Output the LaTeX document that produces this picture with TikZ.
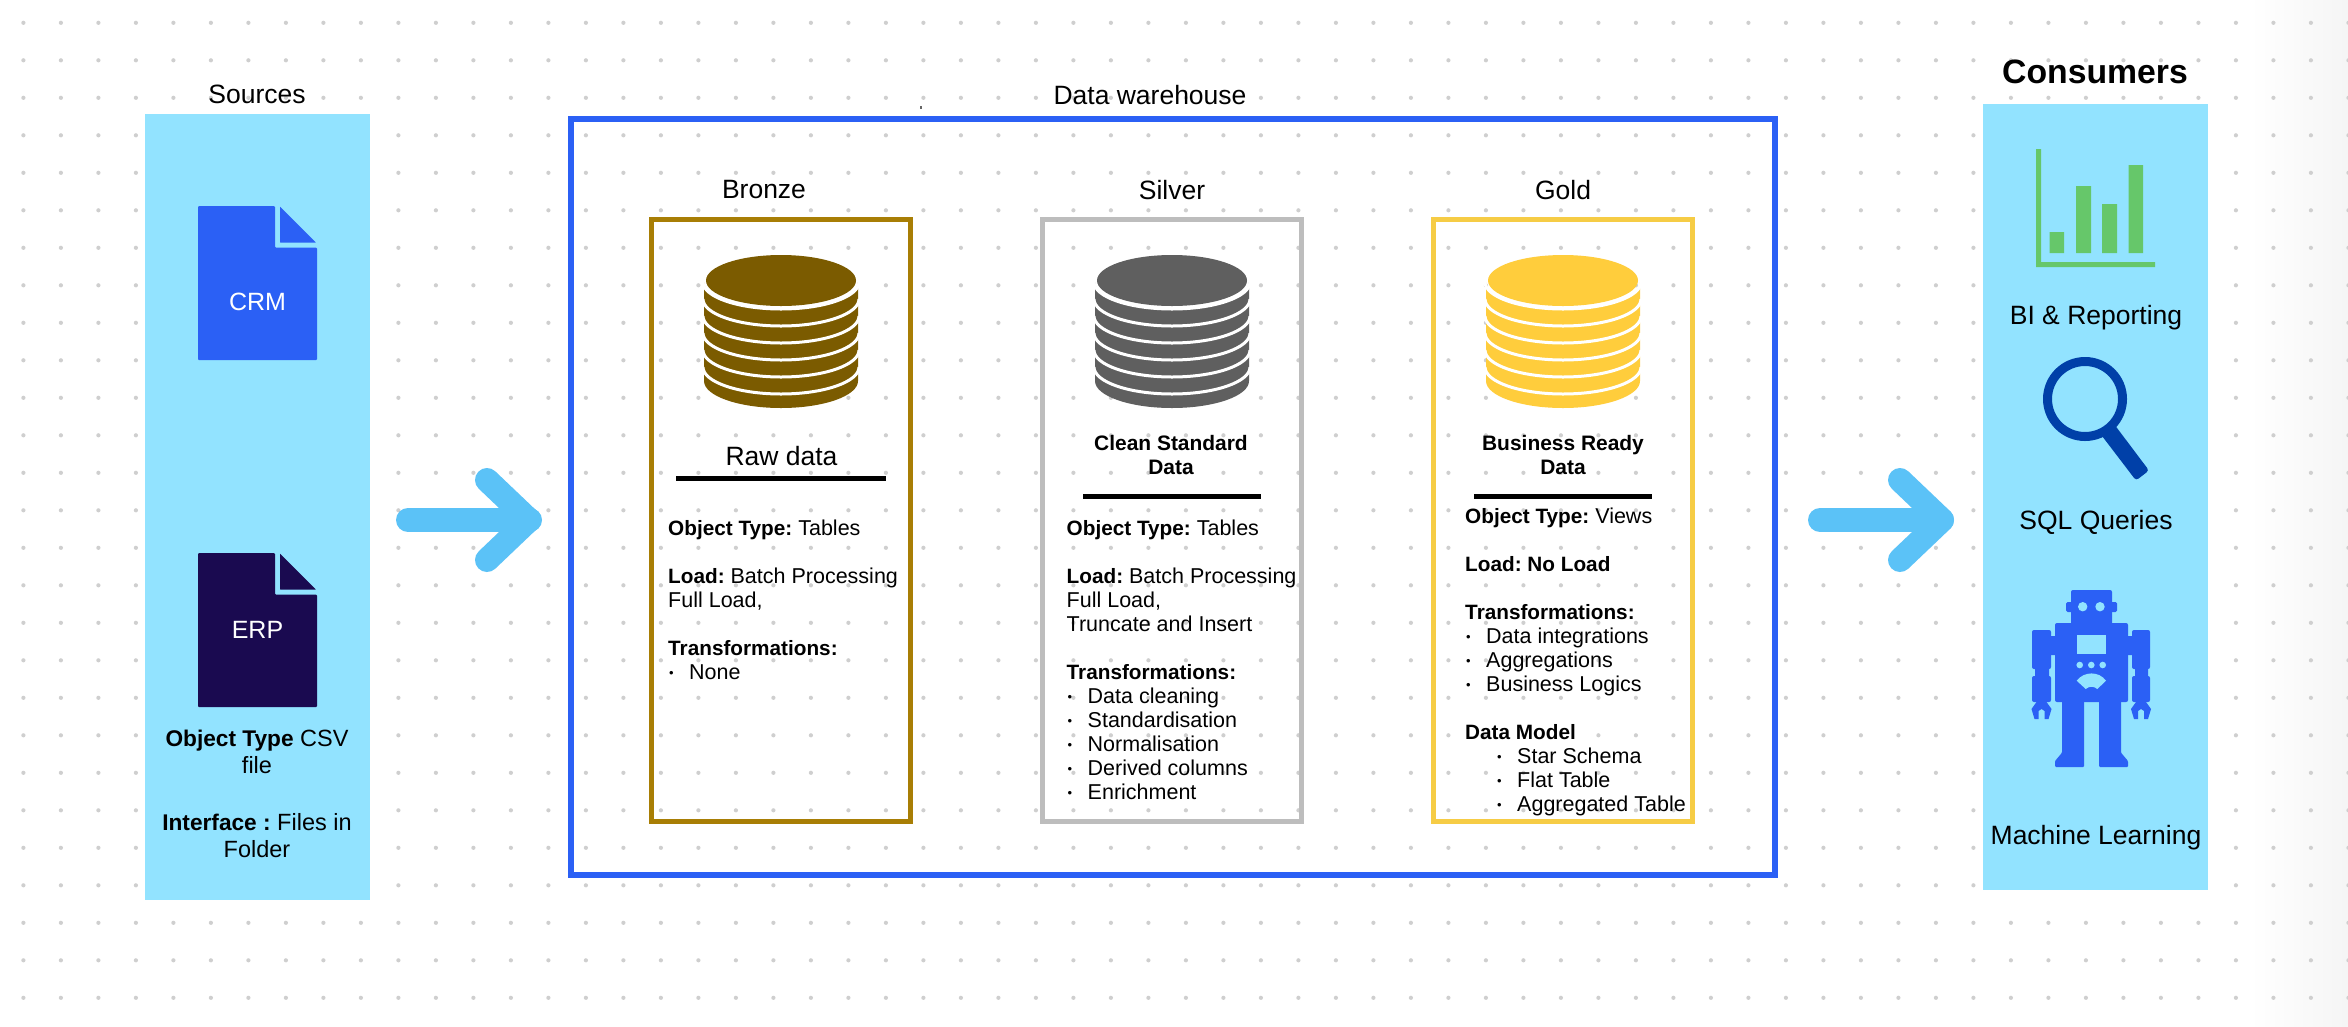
\documentclass[tikz,border=0pt]{standalone}
\usepackage{fontspec}
\setmainfont[BoldFeatures={Scale=0.965}]{Liberation Sans}
\frenchspacing
\usetikzlibrary{positioning}
\definecolor{panelblue}{HTML}{92E3FF}
\definecolor{crmblue}{HTML}{2B60F5}
\definecolor{erpdark}{HTML}{1A0A50}
\definecolor{flowblue}{HTML}{5BC2F7}
\definecolor{griddot}{HTML}{CFCFCF}
\definecolor{bronzeline}{HTML}{A87E05}
\definecolor{bronzedb}{HTML}{7B5B00}
\definecolor{silverline}{HTML}{BDBDBD}
\definecolor{silverdb}{HTML}{5F5F5F}
\definecolor{goldline}{HTML}{F6CC45}
\definecolor{golddb}{HTML}{FFCD3C}
\definecolor{chartgreen}{HTML}{66C76A}
\definecolor{lensblue}{HTML}{0040A8}
\tikzset{
  panel/.style={fill=panelblue, inner sep=0pt, outer sep=0pt},
  layerbox/.style={draw, line width=5pt, inner sep=0pt, outer sep=0pt, minimum width=259pt, minimum height=602pt},
  heading/.style={font=\fontsize{26.5}{30}\selectfont, inner sep=0pt},
  filelabel/.style={font=\fontsize{25}{30}\selectfont, text=white, inner sep=0pt},
  blockhead/.style={font=\fontsize{21.7}{24}\selectfont\bfseries, align=center, inner sep=0pt},
  bodytext/.style={font=\fontsize{21.5}{24}\selectfont, align=left, anchor=north west, inner sep=0pt},
  srctext/.style={font=\fontsize{23.5}{27}\selectfont, align=center, inner sep=0pt},
  fatarrow/.style={draw=flowblue, line width=24pt, line cap=round, line join=round},
  headrule/.style={line width=5pt}
}
\newcommand{\bul}{\makebox[21pt][l]{\hspace{1pt}\raisebox{2.5pt}{\fontsize{13}{13}\selectfont•}}}
% one disk stack: #1 centre x, #2 colour
\newcommand{\dbstack}[2]{
  \fill[#2] (#1-77,282) -- (#1-77,381) arc[start angle=180,end angle=360,x radius=77pt,y radius=27pt] -- (#1+77,282) arc[start angle=0,end angle=-180,x radius=77pt,y radius=27pt] -- cycle;
  \foreach \yc in {282,299,316,333,350,367}
    \draw[white, line width=3pt] (#1-78,\yc) arc[start angle=180,end angle=360,x radius=78pt,y radius=27pt];
  \fill[#2] (#1,280.5) ellipse[x radius=75pt,y radius=25.5pt];
}
\begin{document}
\begin{tikzpicture}[x=1pt,y=-1pt]
  \useasboundingbox (0,0) rectangle (2348,1026);
  \fill[white] (0,0) rectangle (2348,1026);
  \shade[left color=white, right color=black!4] (2250,0) rectangle (2348,1026);
  % dotted canvas
  \foreach \i in {0,...,62}
    \foreach \j in {0,...,26}
      \fill[griddot] ({23.4+37.5*\i},{22.8+37.5*\j}) circle[radius=2.1pt];
  \fill[black!60] (920,106) rectangle (922,108.5);

  % sources
  \node[panel, minimum width=225pt, minimum height=786pt] (sources) at (257.5,507) {};
  \node[heading] (sourcestitle) at (257,94) {Sources};
  \foreach \ytop/\filecol in {206/crmblue,553/erpdark}{
    \begin{scope}[shift={(0,\ytop)}]
      \fill[\filecol, rounded corners=1pt] (198,0) -- (275,0) -- (275,41.5) -- (317,41.5) -- (317,154) -- (198,154) -- cycle;
      \fill[\filecol, rounded corners=0.5pt] (280,0.5) -- (316,36.5) -- (280,36.5) -- cycle;
    \end{scope}
  }
  \node[filelabel] (crm) at (257.5,302) {CRM};
  \node[filelabel] (erp) at (257.5,630) {ERP};
  \node[srctext] (srctype) at (257,752) {\textbf{Object Type} CSV\\file};
  \node[srctext] (srcif) at (257,835.5) {\textbf{Interface :} Files in\\Folder};

  % warehouse
  \node[draw=crmblue, line width=6pt, inner sep=0pt, outer sep=0pt, minimum width=1204pt, minimum height=756pt] (warehouse) at (1173,497) {};
  \node[heading] (warehousetitle) at (1150,95) {Data warehouse};
  \node[heading] (bronzetitle) at (764,190) {Bronze};
  \node[heading] (silvertitle) at (1172,190) {Silver};
  \node[heading] (goldtitle) at (1563,190) {Gold};
  \node[layerbox, draw=bronzeline] (bronze) at (781,520.5) {};
  \node[layerbox, draw=silverline] (silver) at (1172,520.5) {};
  \node[layerbox, draw=goldline] (gold) at (1563,520.5) {};
  \dbstack{781}{bronzedb}
  \dbstack{1172}{silverdb}
  \dbstack{1563}{golddb}

  % bronze text
  \node[heading] (rawdata) at (781.5,456) {Raw data};
  \draw[headrule] (676,478) -- (886,478);
  \node[bodytext] (bronzetext) at (668,520) {\textbf{Object Type:} Tables\\[24pt]
    \textbf{Load:} Batch Processing\\Full Load,\\[24pt]
    \textbf{Transformations:}\\
    \bul None};

  % silver text
  \node[blockhead] (cleandata) at (1171,455) {Clean Standard\\Data};
  \draw[headrule] (1083,496) -- (1261,496);
  \node[bodytext] (silvertext) at (1066.5,520) {\textbf{Object Type:} Tables\\[24pt]
    \textbf{Load:} Batch Processing\\Full Load,\\Truncate and Insert\\[24pt]
    \textbf{Transformations:}\\
    \bul Data cleaning\\\bul Standardisation\\\bul Normalisation\\\bul Derived columns\\\bul Enrichment};

  % gold text
  \node[blockhead] (readydata) at (1563,455) {Business Ready\\Data};
  \draw[headrule] (1474,496) -- (1652,496);
  \node[bodytext] (goldtext) at (1465,508) {\textbf{Object Type:} Views\\[24pt]
    \textbf{Load: No Load}\\[24pt]
    \textbf{Transformations:}\\
    \bul Data integrations\\\bul Aggregations\\\bul Business Logics\\[24pt]
    \textbf{Data Model}\\
    \hspace*{31pt}\bul Star Schema\\\hspace*{31pt}\bul Flat Table\\\hspace*{31pt}\bul Aggregated Table};

  % consumers
  \node[panel, minimum width=225pt, minimum height=786pt] (consumers) at (2095.5,497) {};
  \node[heading, font=\fontsize{35}{38}\selectfont\bfseries] (consumerstitle) at (2095,72) {Consumers};
  \fill[chartgreen] (2036,149) rectangle (2041,267) (2036,262) rectangle (2155,267);
  \fill[chartgreen] (2049.5,232) rectangle (2064,253) (2076,186) rectangle (2091,253) (2102,204) rectangle (2117,253) (2128.5,165) rectangle (2143,253);
  \node[heading] (bilabel) at (2096,318) {BI \& Reporting};
  \draw[lensblue, line width=9pt] (2085,399) circle[radius=37.5pt];
  \fill[lensblue, rounded corners=3pt] (2114,424) -- (2100.5,434) -- (2136,480.5) -- (2149,470.5) -- cycle;
  \node[heading] (sqllabel) at (2096,522) {SQL Queries};
  % robot
  \begin{scope}[crmblue]
    \fill[rounded corners=2pt] (2071,590) rectangle (2112,625);
    \fill[rounded corners=1.5pt] (2066,602) rectangle (2117,612);
    \fill[rounded corners=2pt] (2055,623) rectangle (2128,702);
    \fill (2051,636) rectangle (2055,655) (2128,636) rectangle (2132,655);
    \fill[rounded corners=2pt] (2032,630) rectangle (2051,669);
    \fill[rounded corners=2pt] (2132,630) rectangle (2150,669);
    \fill (2035,668) rectangle (2049,677) (2135,668) rectangle (2148,677);
    \fill[rounded corners=2pt] (2032,676) rectangle (2051,702);
    \fill[rounded corners=2pt] (2132,676) rectangle (2150,702);
    \foreach \hx in {2041.5,2141}{
      \fill (\hx-5,702) -- (\hx+5,702) -- (\hx+10,709) -- (\hx+7,719) -- (\hx+3,719) -- (\hx+3,711) -- (\hx,709) -- (\hx-3,711) -- (\hx-3,719) -- (\hx-7,719) -- (\hx-10,709) -- cycle;
    }
    \fill[rounded corners=1pt] (2062,700) -- (2084,700) -- (2084,767) -- (2055,767) -- (2055,761) -- (2062,752.7) -- cycle;
    \fill[rounded corners=1pt] (2099,700) -- (2121,700) -- (2121,752.7) -- (2128,761) -- (2128,767) -- (2099,767) -- cycle;
  \end{scope}
  \foreach \ex in {2082.7,2100}
    \fill[panelblue] (\ex,606.7) circle[radius=4.7pt];
  \fill[panelblue] (2077,635) rectangle (2106,654);
  \foreach \ex in {2079.7,2091.3,2102.7}
    \fill[panelblue] (\ex,665) circle[radius=3.3pt];
  \fill[panelblue] (2076.7,680.7) .. controls (2084,671) and (2099,671) .. (2106,680.7) -- (2097.3,689) .. controls (2094,686) and (2089,686) .. (2085.7,689) -- cycle;
  \node[heading] (mllabel) at (2096,838) {Machine Learning};

  % flow arrows
  \coordinate (intip) at (529,520);
  \coordinate (outtip) at (1942,520);
  \draw[fatarrow, shorten <=38pt, shorten >=41pt] (sources.east |- intip) -- (warehouse.west |- intip);
  \draw[fatarrow] (487,480) -- (intip) -- (487,560);
  \draw[fatarrow, shorten <=45pt, shorten >=41pt] (warehouse.east |- outtip) -- (consumers.west |- outtip);
  \draw[fatarrow] (1900,480) -- (outtip) -- (1900,560);
\end{tikzpicture}
\end{document}
